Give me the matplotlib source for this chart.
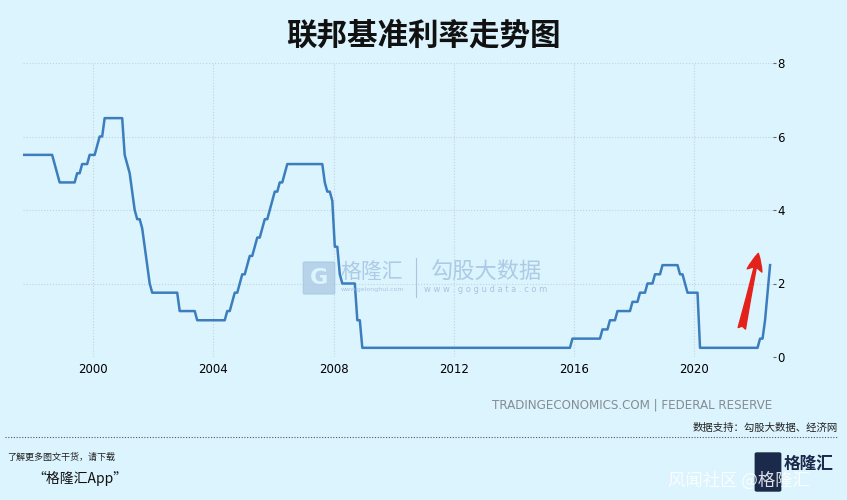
import matplotlib.pyplot as plt
import matplotlib.patches as mpatches
import pandas as pd

plt.rcParams['font.family'] = ['Noto Sans CJK SC', 'DejaVu Sans']

# Fed funds target rate (month, %)
months = [
    "1997-08", "1998-08", "1998-09", "1998-10", "1998-11", "1999-05", "1999-06",
    "1999-07", "1999-08", "1999-10", "1999-11", "2000-01", "2000-02", "2000-03",
    "2000-04", "2000-05", "2000-12", "2001-01", "2001-02", "2001-03", "2001-04",
    "2001-05", "2001-06", "2001-07", "2001-08", "2001-09", "2001-10", "2001-11",
    "2001-12", "2002-10", "2002-11", "2003-05", "2003-06", "2004-05", "2004-06",
    "2004-07", "2004-08", "2004-09", "2004-10", "2004-11", "2004-12", "2005-01",
    "2005-02", "2005-03", "2005-04", "2005-05", "2005-06", "2005-07", "2005-08",
    "2005-09", "2005-10", "2005-11", "2005-12", "2006-01", "2006-02", "2006-03",
    "2006-04", "2006-05", "2006-06", "2007-08", "2007-09", "2007-10", "2007-11",
    "2007-12", "2008-01", "2008-02", "2008-03", "2008-04", "2008-09", "2008-10",
    "2008-11", "2008-12", "2015-11", "2015-12", "2016-11", "2016-12", "2017-02",
    "2017-03", "2017-05", "2017-06", "2017-11", "2017-12", "2018-02", "2018-03",
    "2018-05", "2018-06", "2018-08", "2018-09", "2018-11", "2018-12", "2019-06",
    "2019-07", "2019-08", "2019-09", "2019-10", "2020-02", "2020-03", "2022-02",
    "2022-03", "2022-04", "2022-05", "2022-06", "2022-07",
]
rates = [
    5.5, 5.5, 5.25, 5.0, 4.75, 4.75, 5.0,
    5.0, 5.25, 5.25, 5.5, 5.5, 5.75, 6.0,
    6.0, 6.5, 6.5, 5.5, 5.25, 5.0, 4.5,
    4.0, 3.75, 3.75, 3.5, 3.0, 2.5, 2.0,
    1.75, 1.75, 1.25, 1.25, 1.0, 1.0, 1.25,
    1.25, 1.5, 1.75, 1.75, 2.0, 2.25, 2.25,
    2.5, 2.75, 2.75, 3.0, 3.25, 3.25, 3.5,
    3.75, 3.75, 4.0, 4.25, 4.5, 4.5, 4.75,
    4.75, 5.0, 5.25, 5.25, 4.75, 4.5, 4.5,
    4.25, 3.0, 3.0, 2.25, 2.0, 2.0, 1.0,
    1.0, 0.25, 0.25, 0.5, 0.5, 0.75, 0.75,
    1.0, 1.0, 1.25, 1.25, 1.5, 1.5, 1.75,
    1.75, 2.0, 2.0, 2.25, 2.25, 2.5, 2.5,
    2.25, 2.25, 2.0, 1.75, 1.75, 0.25, 0.25,
    0.5, 0.5, 1.0, 1.75, 2.5,
]
x_ticks = [2000, 2004, 2008, 2012, 2016, 2020]
y_ticks = [0, 2, 4, 6, 8]

BG = "#dcf4fe"
LINE = "#3b7dbd"

d = pd.to_datetime(months)
years = d.year + (d.month - 0.5) / 12

fig = plt.figure(figsize=(8.47, 5.0), dpi=100, facecolor=BG)
ax = fig.add_axes([0.027, 0.286, 0.886, 0.588], facecolor=BG)

ax.plot(years, rates, color=LINE, lw=1.8, solid_joinstyle="round", zorder=3)
ax.set_xlim(1997.65, 2022.65)
ax.set_ylim(0, 8)
ax.set_xticks(x_ticks)
ax.set_yticks(y_ticks)
ax.yaxis.tick_right()
ax.tick_params(axis="y", length=2, color="#666666", labelsize=8.5, pad=1)
ax.tick_params(axis="x", length=0, labelsize=8.5, pad=4)
for lab in ax.get_xticklabels() + ax.get_yticklabels():
    lab.set_family("DejaVu Sans")
ax.grid(True, ls=":", color="#c3d3dc", lw=0.8, zorder=0)
for s in ax.spines.values():
    s.set_visible(False)

# red arrow
ax.annotate("", xy=(2022.15, 2.82), xytext=(2021.6, 0.78),
            arrowprops=dict(arrowstyle="fancy,head_length=0.7,head_width=0.6,tail_width=0.3",
                            color="#e3231b", shrinkA=0, shrinkB=0, mutation_scale=18), zorder=4)

# center watermark
wm = "#a8c6e2"
fig.patches.append(mpatches.FancyBboxPatch((305 / 847, 1 - 293 / 500), 28 / 847, 30 / 500,
                                           boxstyle="round,pad=0.002", transform=fig.transFigure,
                                           color=wm, alpha=0.7))
fig.text(319 / 847, 1 - 278 / 500, "G", color=BG, fontsize=16, fontweight="bold",
         ha="center", va="center", family="DejaVu Sans")
fig.text(340 / 847, 1 - 272 / 500, "格隆汇", color=wm, fontsize=15, ha="left", va="center", alpha=0.9)
fig.text(341 / 847, 1 - 290 / 500, "www.gelonghui.com", color=wm, fontsize=4.5, ha="left", va="center",
         family="DejaVu Sans")
fig.add_artist(plt.Line2D([416 / 847, 416 / 847], [1 - 297 / 500, 1 - 258 / 500], color=wm, lw=0.8,
                          transform=fig.transFigure))
fig.text(486 / 847, 1 - 272 / 500, "勾股大数据", color=wm, fontsize=16, ha="center", va="center", alpha=0.9)
fig.text(486 / 847, 1 - 290 / 500, "w w w . g o g u d a t a . c o m", color=wm, fontsize=6,
         ha="center", va="center", family="DejaVu Sans")

# title and footer
fig.text(0.5, 1 - 36 / 500, "联邦基准利率走势图", fontsize=22, fontweight="bold",
         ha="center", va="center", color="#111111")
fig.text(772 / 847, 1 - 405 / 500, "TRADINGECONOMICS.COM | FEDERAL RESERVE", fontsize=9.5,
         color="#858d94", ha="right", va="center", family="DejaVu Sans", fontstretch="condensed")
fig.text(838 / 847, 1 - 428 / 500, "数据支持：勾股大数据、经济网", fontsize=7.5,
         color="#222222", ha="right", va="center")
fig.add_artist(plt.Line2D([5 / 847, 838 / 847], [1 - 437 / 500, 1 - 437 / 500], color="#555555",
                          lw=0.8, ls=(0, (1, 1.5)), transform=fig.transFigure))
fig.text(7 / 847, 1 - 457 / 500, "了解更多图文干货，请下载", fontsize=6.5, style="italic",
         color="#222222", ha="left", va="center")
fig.text(32 / 847, 1 - 478 / 500, "“格隆汇App”", fontsize=10, style="italic",
         color="#111111", ha="left", va="center")

# bottom-right logo + watermark
fig.patches.append(mpatches.FancyBboxPatch((757 / 847, 1 - 490 / 500), 22 / 847, 36 / 500,
                                           boxstyle="round,pad=0.002", transform=fig.transFigure,
                                           color="#1b2a4a"))
fig.text(784 / 847, 1 - 464 / 500, "格隆汇", fontsize=12, fontweight="bold", color="#1b2a4a",
         ha="left", va="center")
fig.text(668 / 847, 1 - 481 / 500, "风闻社区 @格隆汇", fontsize=12.5, color="white", alpha=0.85,
         ha="left", va="center")

fig.savefig("out.png", dpi=100, facecolor=BG)
